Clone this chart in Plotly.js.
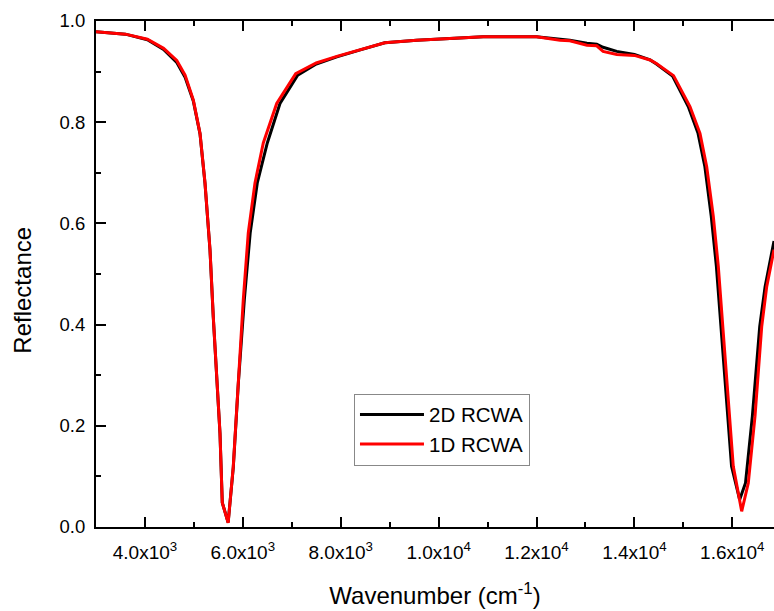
<!DOCTYPE html>
<html>
<head>
<meta charset="utf-8">
<script src="https://cdn.plot.ly/plotly-3.0.1.min.js"></script>
<style>html,body{margin:0;padding:0;background:#fff;}#chart{width:774px;height:611px;}</style>
</head>
<body>
<div id="chart"></div>
<script>
// 1D RCWA (red)
var waveRed = [3000,3600,4050,4380,4650,4820,4988,5125,5227,5329,5396,5466,5533,5580,5700,5805,5907,6009,6111,6248,6418,6692,7080,7500,7920,8400,8900,9550,10230,10910,12000,12480,12680,13030,13230,13360,13640,14000,14320,14450,14800,15135,15340,15477,15612,15714,15816,15918,16020,16192,16327,16464,16601,16703,16852];
var reflRed = [0.979,0.974,0.964,0.946,0.922,0.893,0.844,0.778,0.680,0.548,0.416,0.285,0.186,0.048,0.008,0.120,0.285,0.449,0.581,0.680,0.759,0.837,0.896,0.917,0.930,0.943,0.957,0.962,0.966,0.969,0.969,0.962,0.961,0.952,0.951,0.940,0.934,0.932,0.923,0.916,0.892,0.831,0.778,0.712,0.614,0.515,0.383,0.252,0.120,0.031,0.087,0.219,0.396,0.475,0.548];
// 2D RCWA (black)
var waveBlack = [3000,3600,4050,4380,4650,4820,4988,5125,5227,5329,5396,5466,5533,5580,5700,5805,5907,6030,6150,6295,6500,6759,7120,7500,7920,8400,8900,9550,10230,10910,12000,12480,12680,13030,13230,13360,13640,14000,14320,14450,14780,15100,15300,15440,15570,15675,15775,15880,15985,16150,16270,16410,16560,16670,16852];
var reflBlack = [0.979,0.974,0.963,0.944,0.918,0.889,0.842,0.777,0.679,0.547,0.415,0.284,0.185,0.048,0.009,0.118,0.283,0.449,0.581,0.680,0.759,0.837,0.893,0.915,0.929,0.943,0.957,0.962,0.966,0.969,0.969,0.963,0.962,0.956,0.954,0.948,0.940,0.934,0.923,0.915,0.891,0.831,0.778,0.712,0.614,0.515,0.383,0.252,0.120,0.054,0.087,0.219,0.396,0.475,0.565];

var xTickVals = [4000,6000,8000,10000,12000,14000,16000];
var xTickText = ['4.0x10<sup>3</sup>','6.0x10<sup>3</sup>','8.0x10<sup>3</sup>','1.0x10<sup>4</sup>','1.2x10<sup>4</sup>','1.4x10<sup>4</sup>','1.6x10<sup>4</sup>'];
var yTickVals = [0,0.2,0.4,0.6,0.8,1.0];
var yTickText = ['0.0','0.2','0.4','0.6','0.8','1.0'];

var font = 'Liberation Sans, Arial, sans-serif';

var traces = [
  {x: waveBlack, y: reflBlack, name: '2D RCWA', mode: 'lines', line: {color: '#000000', width: 3}},
  {x: waveRed, y: reflRed, name: '1D RCWA', mode: 'lines', line: {color: '#ff0000', width: 3}}
];

var layout = {
  width: 774, height: 611,
  margin: {l: 96, r: 0, t: 21, b: 84, pad: 0},
  paper_bgcolor: '#ffffff', plot_bgcolor: '#ffffff',
  font: {family: font, color: '#000000'},
  showlegend: true,
  legend: {
    x: 0.3805, y: 0.2636, xanchor: 'left', yanchor: 'top',
    bgcolor: '#ffffff', bordercolor: '#888888', borderwidth: 1,
    font: {family: font, size: 20.5, color: '#000000'},
    itemwidth: 64, tracegroupgap: 0
  },
  annotations: [{
    text: 'Reflectance', xref: 'paper', yref: 'paper',
    x: -0.1077, y: 0.469, xanchor: 'center', yanchor: 'middle',
    textangle: -90, showarrow: false,
    font: {family: font, size: 24, color: '#000000'}
  }],
  xaxis: {
    range: [3000, 16852],
    showgrid: false, zeroline: false,
    showline: true, linecolor: '#000000', linewidth: 2,
    mirror: 'ticks',
    ticks: 'inside', ticklen: 10, tickwidth: 2, tickcolor: '#000000',
    tickmode: 'array', tickvals: xTickVals, ticktext: xTickText,
    tickfont: {family: font, size: 19, color: '#000000'},
    ticklabelstandoff: 7,
    minor: {ticks: 'inside', ticklen: 5, tickwidth: 2, tickcolor: '#000000', tickmode: 'linear', tick0: 3000, dtick: 1000, showgrid: false},
    title: {text: 'Wavenumber (cm<sup>-1</sup>)', font: {family: font, size: 24, color: '#000000'}, standoff: 25}
  },
  yaxis: {
    range: [0, 1],
    showgrid: false, zeroline: false,
    showline: true, linecolor: '#000000', linewidth: 2,
    ticks: 'inside', ticklen: 10, tickwidth: 2, tickcolor: '#000000',
    tickmode: 'array', tickvals: yTickVals, ticktext: yTickText,
    tickfont: {family: font, size: 18.5, color: '#000000'},
    ticklabelstandoff: 5,
    minor: {ticks: 'inside', ticklen: 5, tickwidth: 2, tickcolor: '#000000', tickmode: 'linear', tick0: 0, dtick: 0.1, showgrid: false}
  }
};

Plotly.newPlot('chart', traces, layout, {displayModeBar: false, staticPlot: true});
</script>
</body>
</html>
